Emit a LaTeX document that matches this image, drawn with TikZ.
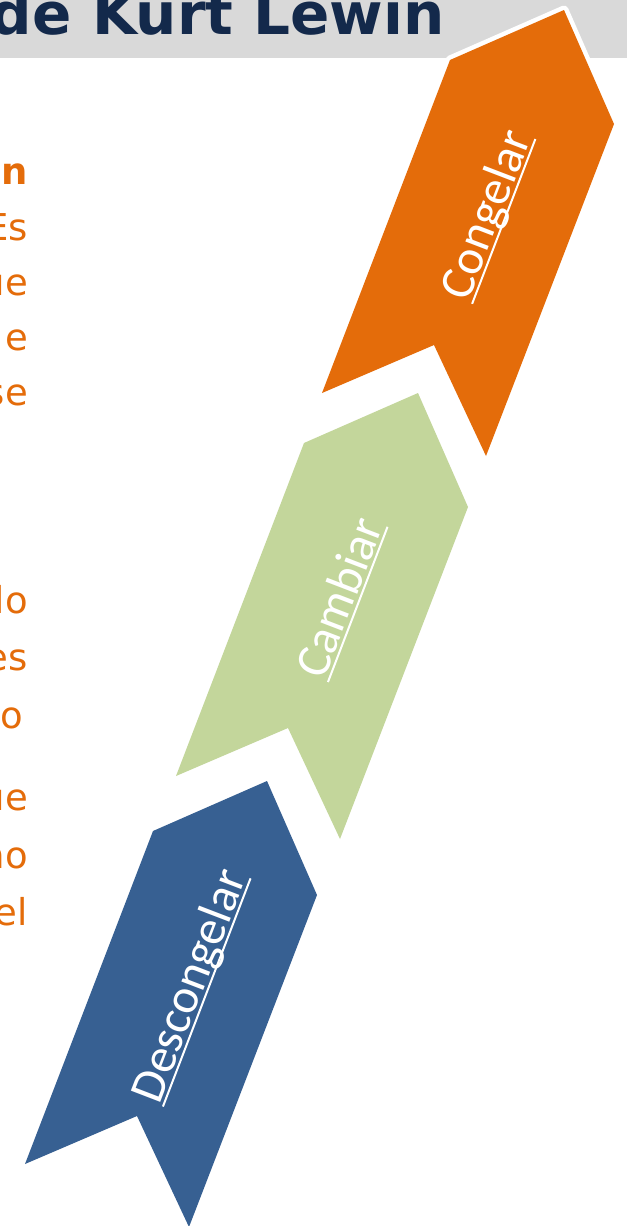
\documentclass[tikz,border=0pt]{standalone}
\usepackage{fontspec}
\setmainfont{Carlito}
\newfontfamily\dejavu{DejaVu Sans}
\definecolor{bargray}{HTML}{D9D9D9}
\definecolor{titlenavy}{HTML}{13294B}
\definecolor{orangec}{HTML}{E46C0A}
\definecolor{greenc}{HTML}{C3D69B}
\definecolor{bluec}{HTML}{376092}
\newcommand\myul[1]{\setbox0=\hbox{#1}\rlap{\rule[-5pt]{\wd0}{2pt}}\box0}
\newcommand\chevpath{(0,0) -- (114,-50) -- (164,64) -- (36,396) -- (-16,285) -- (-128,333) -- cycle}
\tikzset{
  chevborder/.style={draw=white, line width=9pt, line join=round},
  labeltext/.style={text=white, font=\fontsize{49}{55}\selectfont, rotate=69, anchor=base, inner sep=0pt},
  lefttext/.style={text=orangec, font=\dejavu\fontsize{37}{55}\selectfont, anchor=base east, inner sep=0pt},
  titletext/.style={text=titlenavy, font=\dejavu\bfseries\fontsize{58}{66}\selectfont, anchor=base east, inner sep=0pt}
}
\begin{document}
\begin{tikzpicture}[x=1pt,y=-1pt]
\useasboundingbox (0,0) rectangle (627,1226);
\clip (0,0) rectangle (627,1226);
\fill[bargray] (0,0) rectangle (627,58);
\node[titletext] (title) at (445,34) {de Kurt Lewin};
% left text fragments
\node[lefttext] (t1) at (28,184) {\bfseries on};
\node[lefttext] (t2) at (28,240) {Es};
\node[lefttext] (t3) at (28,295) {ue};
\node[lefttext] (t4) at (28,350) {e};
\node[lefttext] (t5) at (28,405) {se};
\node[lefttext] (t6) at (28,613) {lo};
\node[lefttext] (t7) at (28,670) {es};
\node[lefttext] (t8) at (23,728) {o};
\node[lefttext] (t9) at (28,810) {ue};
\node[lefttext] (t10) at (28,868) {no};
\node[lefttext] (t11) at (28,925) {el};
% orange chevron
\begin{scope}[shift={(450,60)}]
  \path[chevborder] \chevpath;
  \fill[orangec] \chevpath;
  \node[labeltext] (congelar) at (50,160) {\myul{Congelar}};
\end{scope}
% green chevron
\begin{scope}[shift={(304,443)}]
  \path[chevborder] \chevpath;
  \fill[greenc] \chevpath;
  \node[labeltext] (cambiar) at (50,160) {\myul{Cambiar}};
\end{scope}
% blue chevron
\begin{scope}[shift={(153,831)}]
  \path[chevborder] \chevpath;
  \fill[bluec] \chevpath;
  \node[labeltext] (descongelar) at (50,160) {\myul{Descongelar}};
\end{scope}
\end{tikzpicture}
\end{document}
